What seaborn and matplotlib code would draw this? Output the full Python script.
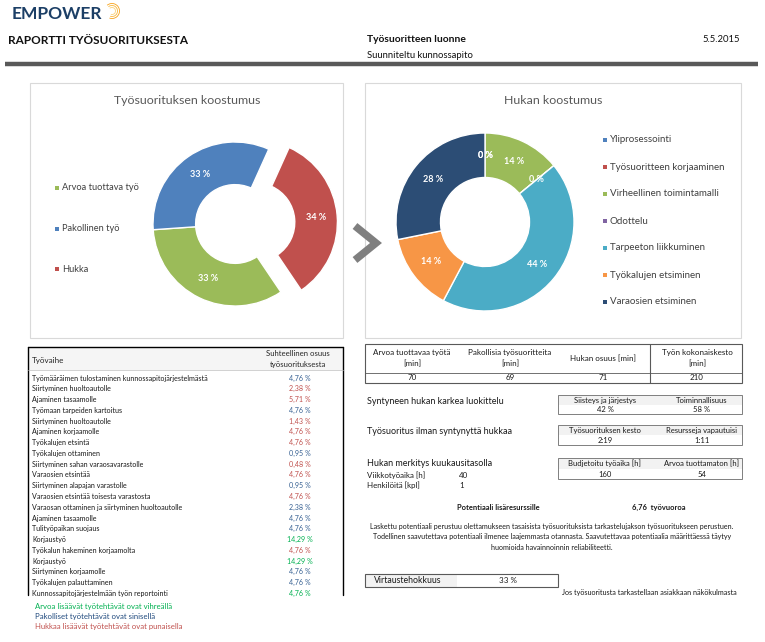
import numpy as np
import seaborn as sns
import matplotlib.pyplot as plt
from matplotlib.patches import Rectangle, Arc

sns.set_theme(style="white")
plt.rcParams['font.family'] = ['Lato', 'DejaVu Sans']

# --- data ---
koostumus_labels = ["Arvoa tuottava työ", "Pakollinen työ", "Hukka"]
koostumus_min = [70, 69, 71]
koostumus_colors = ["#9BBB59", "#4F81BD", "#C0504D"]

hukka_labels = ["Yliprosessointi", "Työsuoritteen korjaaminen", "Virheellinen toimintamalli",
                "Odottelu", "Tarpeeton liikkuminen", "Työkalujen etsiminen", "Varaosien etsiminen"]
hukka_min = [0, 0, 10, 0, 31, 10, 20]
hukka_colors = ["#4F81BD", "#C0504D", "#9BBB59", "#8064A2", "#4BACC6", "#F79646", "#2C4D75"]

vaiheet = ["Työmääräimen tulostaminen kunnossapitojärjestelmästä", "Siirtyminen huoltoautolle",
           "Ajaminen tasaamolle", "Työmaan tarpeiden kartoitus", "Siirtyminen huoltoautolle",
           "Ajaminen korjaamolle", "Työkalujen etsintä", "Työkalujen ottaminen",
           "Siirtyminen sahan varaosavarastolle", "Varaosien etsintää", "Siirtyminen alapajan varastolle",
           "Varaosien etsintää toisesta varastosta", "Varaosan ottaminen ja siirtyminen huoltoautolle",
           "Ajaminen tasaamolle", "Tulityöpaikan suojaus", "Korjaustyö", "Työkalun hakeminen korjaamolta",
           "Korjaustyö", "Siirtyminen korjaamolle", "Työkalujen palauttaminen",
           "Kunnossapitojärjestelmään työn reportointi"]
vaihe_osuus = [4.76, 2.38, 5.71, 4.76, 1.43, 4.76, 4.76, 0.95, 0.48, 4.76, 0.95,
               4.76, 2.38, 4.76, 4.76, 14.29, 4.76, 14.29, 4.76, 4.76, 4.76]
vaihe_tyyppi = ["P", "H", "H", "P", "H", "H", "H", "P", "H", "H", "P",
                "H", "P", "P", "P", "A", "H", "A", "P", "P", "A"]
tyyppi_col = {"A": "#00B050", "P": "#366092", "H": "#C0504D"}

minuutit_otsikot = [["Arvoa tuottavaa työtä", "[min]"], ["Pakollisia työsuoritteita", "[min]"],
                    ["Hukan osuus [min]"], ["Työn kokonaiskesto", "[min]"]]
minuutit = [70, 69, 71, 210]

W, H = 765, 642
fig = plt.figure(figsize=(W / 100, H / 100), dpi=100)
bg = fig.add_axes([0, 0, 1, 1])
bg.set_xlim(0, W)
bg.set_ylim(H, 0)
bg.axis('off')


def t(x, y, s, size=5.5, **kw):
    kw.setdefault('va', 'center')
    kw.setdefault('color', '#1a1a1a')
    bg.text(x, y, s, fontsize=size, **kw)


def donut_ax(cx, cy, R, half):
    ax = fig.add_axes([(cx - half) / W, 1 - (cy + half) / H, 2 * half / W, 2 * half / H])
    ax.set_facecolor('none')
    return ax, half / R


# --- header ---
t(12, 14, "EMPOWER", 12.5, weight='bold', color='#1c3f66')
for r, c in [(7.5, '#f6a21a'), (5.5, '#f8b840'), (3.5, '#fbd27a')]:
    bg.add_patch(Arc((112, 11), 2 * r, 2 * r, theta1=230, theta2=470, color=c, lw=0.6))
t(8, 40, "RAPORTTI TYÖSUORITUKSESTA", 8.5, weight='bold', color='#111111')
t(367, 40, "Työsuoritteen luonne", 7.4, weight='bold', color='#111111')
t(367, 55, "Suunniteltu kunnossapito", 6.8, color='#111111')
t(740, 40, "5.5.2015", 6.8, ha='right', color='#111111')
bg.plot([5, 758], [64, 64], color='#595959', lw=3.2, solid_capstyle='butt')

# --- chart frames ---
bg.add_patch(Rectangle((30, 83), 313, 255, fc='none', ec='#d9d9d9', lw=0.8))
bg.add_patch(Rectangle((365, 83), 376, 255, fc='none', ec='#d9d9d9', lw=0.8))
t(187, 100, "Työsuorituksen koostumus", 8.9, ha='center', color='#595959')
t(553, 100, "Hukan koostumus", 8.9, ha='center', color='#595959')

# --- left donut ---
ax1, lim1 = donut_ax(235, 224, 82, 110)
ax1.pie(koostumus_min, colors=koostumus_colors, startangle=-56, counterclock=False,
        explode=[0, 0, 0.25], autopct='%.0f %%', pctdistance=0.74,
        wedgeprops=dict(width=0.52, edgecolor='white', linewidth=1),
        textprops=dict(color='white', fontsize=6.5, weight='bold'))
ax1.set_xlim(-lim1, lim1)
ax1.set_ylim(-lim1, lim1)
ax1.axis('off')

for i, (lab, col) in enumerate(zip(koostumus_labels, koostumus_colors)):
    y = 188 + 40.5 * i
    bg.add_patch(Rectangle((55, y - 2), 4, 4, fc=col, ec='none'))
    t(62, y, lab, 6.7, color='#404040')

# --- right donut ---
ax2, lim2 = donut_ax(485, 222, 89, 110)
ax2.pie(hukka_min, colors=hukka_colors, startangle=90, counterclock=False,
        autopct='%.0f %%', pctdistance=0.75,
        wedgeprops=dict(width=0.5, edgecolor='white', linewidth=1),
        textprops=dict(color='white', fontsize=6.5, weight='bold'))
ax2.set_xlim(-lim2, lim2)
ax2.set_ylim(-lim2, lim2)
ax2.axis('off')

for i, (lab, col) in enumerate(zip(hukka_labels, hukka_colors)):
    y = 140 + 27 * i
    bg.add_patch(Rectangle((603, y - 2), 4, 4, fc=col, ec='none'))
    t(610, y, lab, 7.0, color='#404040')

# chevron between the charts
bg.plot([355, 376, 355], [226, 243, 260], color='#7f7f7f', lw=5.4,
        solid_joinstyle='miter', solid_capstyle='butt')

# --- left table ---
bg.add_patch(Rectangle((28, 347), 315, 23, fc='#f5f5f5', ec='none'))
bg.plot([28, 343], [347, 347], color='black', lw=1)
bg.plot([28, 28], [347, 595], color='black', lw=1)
bg.plot([343, 343], [347, 595], color='black', lw=1)
bg.plot([28, 343], [370, 370], color='#bfbfbf', lw=0.5)
t(32, 360, "Työvaihe", 5.8, color='#262626')
t(298, 354, "Suhteellinen osuus", 5.6, ha='center', color='#262626')
t(298, 364, "työsuorituksesta", 5.6, ha='center', color='#262626')
for i, (v, o, k) in enumerate(zip(vaiheet, vaihe_osuus, vaihe_tyyppi)):
    y = 378 + i * 10.77
    t(32, y, v, 5.15, color='#1a1a1a')
    t(300, y, f"{o:.2f} %".replace('.', ','), 5.15, ha='center', color=tyyppi_col[k])

t(35, 606, "Arvoa lisäävät työtehtävät ovat vihreällä", 5.6, color='#00B050')
t(35, 616, "Pakolliset työtehtävät ovat sinisellä", 5.6, color='#1F497D')
t(35, 627, "Hukkaa lisäävät työtehtävät ovat punaisella", 5.6, color='#C0504D')

# --- right: minutes table ---
bg.add_patch(Rectangle((365, 344), 377, 39, fc='none', ec='#595959', lw=0.8))
bg.plot([365, 742], [373, 373], color='#595959', lw=0.6)
bg.plot([650, 650], [344, 383], color='#595959', lw=0.8)
for xc, head, val in zip([412, 510, 603, 697], minuutit_otsikot, minuutit):
    if len(head) == 2:
        t(xc, 353, head[0], 5.8, ha='center')
        t(xc, 364, head[1], 5.8, ha='center')
    else:
        t(xc, 359, head[0], 5.8, ha='center')
    t(xc, 378, str(val), 5.8, ha='center')


def pieni_taulu(y0, y1, heads, vals):
    ym = (y0 + y1) / 2
    bg.add_patch(Rectangle((558, y0), 184, ym - y0, fc='#f2f2f2', ec='none'))
    bg.add_patch(Rectangle((558, y0), 184, y1 - y0, fc='none', ec='#7f7f7f', lw=0.7))
    for xc, h, v in zip([605, 702], heads, vals):
        t(xc, y0 + 5.5, h, 5.5, ha='center')
        t(xc, y1 - 4.5, v, 5.5, ha='center')


t(367, 401, "Syntyneen hukan karkea luokittelu", 6.5)
pieni_taulu(395, 414, ["Siisteys ja järjestys", "Toiminnallisuus"], ["42 %", "58 %"])
t(367, 431, "Työsuoritus ilman syntynyttä hukkaa", 6.5)
pieni_taulu(425, 445, ["Työsuorituksen kesto", "Resursseja vapautuisi"], ["2:19", "1:11"])
t(367, 464, "Hukan merkitys kuukausitasolla", 6.5)
t(367, 475, "Viikkotyöaika [h]", 5.7)
t(459, 475, "40", 5.7)
t(367, 485, "Henkilöitä [kpl]", 5.7)
t(459, 485, "1", 5.7)
pieni_taulu(458, 479, ["Budjetoitu työaika [h]", "Arvoa tuottamaton [h]"], ["160", "54"])

t(498, 507, "Potentiaali lisäresurssille", 5.4, ha='center', weight='bold')
t(659, 507, "6,76  työvuoroa", 5.4, ha='center', weight='bold')
t(552, 527, "Laskettu potentiaali perustuu olettamukseen tasaisista työsuorituksista tarkastelujakson työsuoritukseen perustuen.", 5.15, ha='center')
t(552, 537, "Todellinen saavutettava potentiaali ilmenee laajemmasta otannasta. Saavutettavaa potentiaalia määrittäessä täytyy", 5.15, ha='center')
t(552, 548, "huomioida havainnoinnin reliabiliteetti.", 5.15, ha='center')

bg.add_patch(Rectangle((365, 574), 92, 13, fc='#f2f2f2', ec='none'))
bg.add_patch(Rectangle((365, 574), 193, 13, fc='none', ec='#595959', lw=0.8))
t(408, 580.5, "Virtaustehokkuus", 6.3, ha='center')
t(508, 580.5, "33 %", 5.8, ha='center')
t(562, 592, "Jos työsuoritusta tarkastellaan asiakkaan näkökulmasta", 5.2)

fig.savefig("out.png", dpi=100)
